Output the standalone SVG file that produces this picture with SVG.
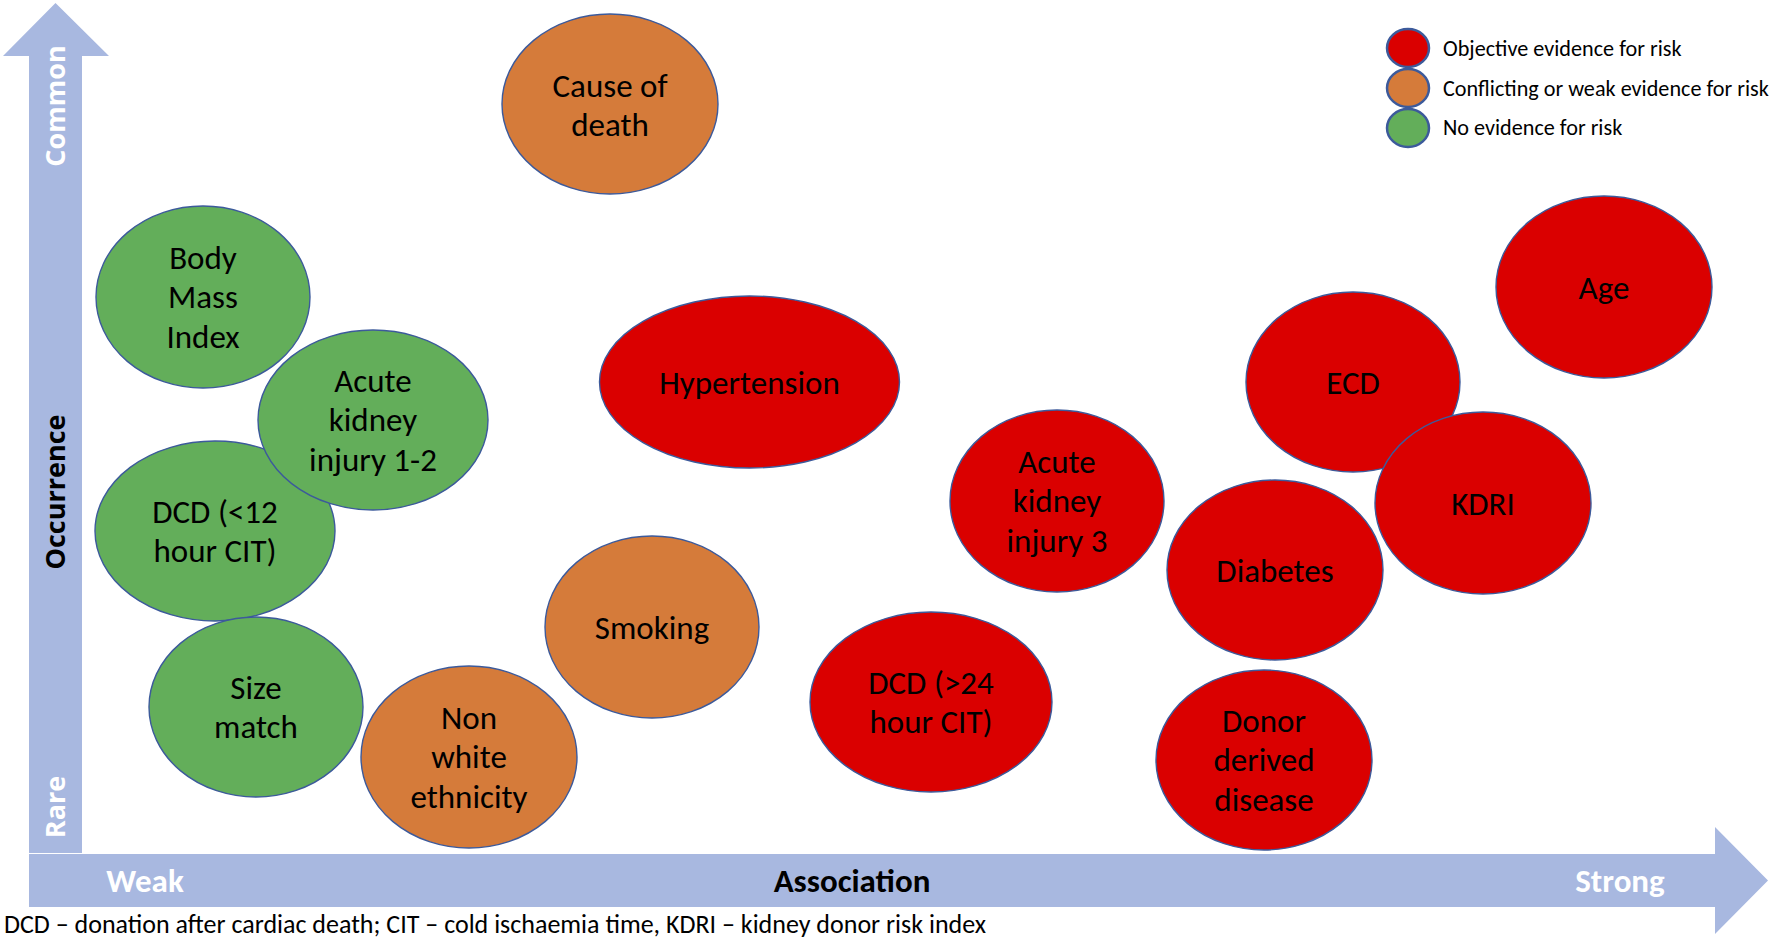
<svg xmlns="http://www.w3.org/2000/svg" width="1772" height="942" viewBox="0 0 1772 942">
<style>
.node ellipse{stroke:#3C5A9B;stroke-width:1.4}
.red ellipse{fill:#DA0000}
.org ellipse{fill:#D57B3A}
.grn ellipse{fill:#63AE5A}
.nt{font-family:Carlito,Lato,"Liberation Sans",sans-serif;font-size:33px;fill:#000;text-anchor:middle}
.ax{font-family:"Open Sans","Liberation Sans",sans-serif;font-weight:bold;font-size:27px;text-anchor:middle}
.hx{font-family:Carlito,Lato,"Liberation Sans",sans-serif;font-weight:bold;font-size:33px;text-anchor:middle}
.lg{font-family:Carlito,Lato,"Liberation Sans",sans-serif;font-size:22.2px;fill:#000}
.lgE{stroke:#3C5A9B;stroke-width:2.5}
</style>
<rect width="1772" height="942" fill="#FFFFFF"/>
<g id="axes">
<path d="M29,853 L29,56 L3,56 L55.5,3 L109,56 L82,56 L82,853 Z" fill="#A8B8E0"/>
<path d="M29,854 L1715,854 L1715,827 L1768,880.5 L1715,934 L1715,907 L29,907 Z" fill="#A8B8E0"/>
<text class="ax" fill="#FFFFFF" font-size="28px" transform="translate(65,106) rotate(-90)">Common</text>
<text class="ax" fill="#000000" transform="translate(65,492) rotate(-90)">Occurrence</text>
<text class="ax" fill="#FFFFFF" transform="translate(65,807) rotate(-90)">Rare</text>
<text class="hx" fill="#FFFFFF" x="145" y="892">Weak</text>
<text class="hx" fill="#000000" x="852" y="892">Association</text>
<text class="hx" fill="#FFFFFF" x="1620" y="892">Strong</text>
</g>
<g id="connectors"></g>
<g id="legend">
<ellipse class="lgE" cx="1408" cy="48" rx="21" ry="19" fill="#DA0000"/>
<ellipse class="lgE" cx="1408" cy="88" rx="21" ry="19" fill="#D57B3A"/>
<ellipse class="lgE" cx="1408" cy="128" rx="21" ry="19" fill="#63AE5A"/>
<text class="lg" x="1443" y="56">Objective evidence for risk</text>
<text class="lg" x="1443" y="96">Conflicting or weak evidence for risk</text>
<text class="lg" x="1443" y="135">No evidence for risk</text>
</g>
<g id="n-cause" class="node org"><ellipse cx="610" cy="104" rx="108" ry="90"/><text class="nt" x="610" y="97">Cause of</text><text class="nt" x="610" y="136">death</text></g>
<g id="n-bmi" class="node grn"><ellipse cx="203" cy="297" rx="107" ry="91"/><text class="nt" x="203" y="269">Body</text><text class="nt" x="203" y="308">Mass</text><text class="nt" x="203" y="348">Index</text></g>
<g id="n-dcd12" class="node grn"><ellipse cx="215" cy="531" rx="120" ry="90"/><text class="nt" x="215" y="523">DCD (&lt;12</text><text class="nt" x="215" y="562">hour CIT)</text></g>
<g id="n-aki12" class="node grn"><ellipse cx="373" cy="420" rx="115" ry="90"/><text class="nt" x="373" y="392">Acute</text><text class="nt" x="373" y="431">kidney</text><text class="nt" x="373" y="471">injury 1-2</text></g>
<g id="n-size" class="node grn"><ellipse cx="256" cy="707" rx="107" ry="90"/><text class="nt" x="256" y="699">Size</text><text class="nt" x="256" y="738">match</text></g>
<g id="n-nonwhite" class="node org"><ellipse cx="469" cy="757" rx="108" ry="91"/><text class="nt" x="469" y="729">Non</text><text class="nt" x="469" y="768">white</text><text class="nt" x="469" y="808">ethnicity</text></g>
<g id="n-smoking" class="node org"><ellipse cx="652" cy="627" rx="107" ry="91"/><text class="nt" x="652" y="639">Smoking</text></g>
<g id="n-hyper" class="node red"><ellipse cx="749.5" cy="382" rx="150" ry="86"/><text class="nt" x="749.5" y="394">Hypertension</text></g>
<g id="n-aki3" class="node red"><ellipse cx="1057" cy="501" rx="107" ry="91"/><text class="nt" x="1057" y="473">Acute</text><text class="nt" x="1057" y="512">kidney</text><text class="nt" x="1057" y="552">injury 3</text></g>
<g id="n-dcd24" class="node red"><ellipse cx="931" cy="702" rx="121" ry="90"/><text class="nt" x="931" y="694">DCD (&gt;24</text><text class="nt" x="931" y="733">hour CIT)</text></g>
<g id="n-diabetes" class="node red"><ellipse cx="1275" cy="570" rx="108" ry="90"/><text class="nt" x="1275" y="582">Diabetes</text></g>
<g id="n-donor" class="node red"><ellipse cx="1264" cy="760" rx="108" ry="90"/><text class="nt" x="1264" y="732">Donor</text><text class="nt" x="1264" y="771">derived</text><text class="nt" x="1264" y="811">disease</text></g>
<g id="n-ecd" class="node red"><ellipse cx="1353" cy="382" rx="107" ry="90"/><text class="nt" x="1353" y="394">ECD</text></g>
<g id="n-kdri" class="node red"><ellipse cx="1483" cy="503" rx="108" ry="91"/><text class="nt" x="1483" y="515">KDRI</text></g>
<g id="n-age" class="node red"><ellipse cx="1604" cy="287" rx="108" ry="91"/><text class="nt" x="1604" y="299">Age</text></g>
<text id="footnote" x="4" y="933" font-family="Carlito,Lato,'Liberation Sans',sans-serif" font-size="26px" fill="#000">DCD – donation after cardiac death; CIT – cold ischaemia time, KDRI – kidney donor risk index</text>
</svg>
